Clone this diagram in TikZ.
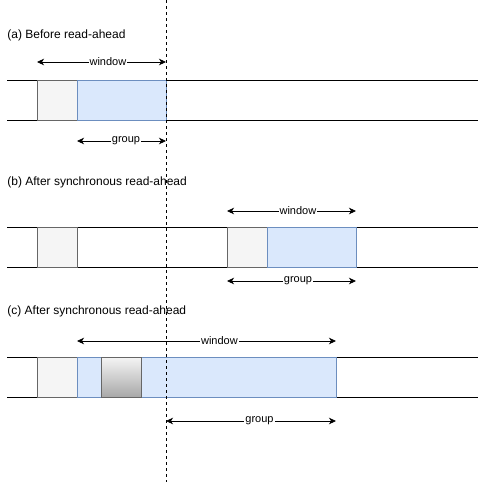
\documentclass[tikz,border=0pt]{standalone}
\usepackage{fontspec}
\setmainfont{Liberation Sans}
\usetikzlibrary{positioning,arrows.meta}
\definecolor{grayfill}{HTML}{F5F5F5}
\definecolor{graystroke}{HTML}{666666}
\definecolor{bluefill}{HTML}{DAE8FC}
\definecolor{bluestroke}{HTML}{6C8EBF}
\definecolor{shadebot}{HTML}{A8A8A8}

\begin{document}
\begin{tikzpicture}[x=1pt,y=-1pt,>={Stealth[length=7pt,width=6.5pt,inset=2pt]},line width=0.8pt,
    page/.style={inner sep=0pt,outer sep=0pt,minimum height=40pt},
    blk/.style={page,draw=graystroke,fill=grayfill,minimum width=40pt,anchor=north west},
    grp/.style={page,draw=bluestroke,fill=bluefill},
    hot/.style={page,draw=graystroke,top color=grayfill,bottom color=shadebot,minimum width=40pt},
    ttl/.style={anchor=west,inner sep=0pt,font=\fontsize{12}{14}\selectfont},
    lbl/.style={fill=white,inner sep=1pt,pos=0.55,font=\fontsize{11}{13}\selectfont}]
    \useasboundingbox (0,0) rectangle (478,482);
    % tracks
    \foreach \y in {80,120,227,267,357,397}
        \draw (7,\y) -- (478,\y);
    % (a)
    \node[ttl] (a_ttl) at (7,35) {(a) Before read-ahead};
    \node[blk] (a_blk) at (37,80) {};
    \node[grp,minimum width=89pt,right=0pt of a_blk] (a_grp) {};
    \coordinate (a_w1) at (37,62);
    \coordinate (a_w2) at (166,62);
    \coordinate (a_g1) at (77,141);
    \coordinate (a_g2) at (166,141);
    \draw[<->] (a_w1) -- node[lbl] {window} (a_w2);
    \draw[<->] (a_g1) -- node[lbl] {group} (a_g2);
    % (b)
    \node[ttl] (b_ttl) at (7,182) {(b) After synchronous read-ahead};
    \node[blk] (b_old) at (37,227) {};
    \node[blk] (b_blk) at (227,227) {};
    \node[grp,minimum width=89pt,right=0pt of b_blk] (b_grp) {};
    \coordinate (b_w1) at (227,211);
    \coordinate (b_w2) at (356,211);
    \coordinate (b_g1) at (227,281);
    \coordinate (b_g2) at (356,281);
    \draw[<->] (b_w1) -- node[lbl] {window} (b_w2);
    \draw[<->] (b_g1) -- node[lbl] {group} (b_g2);
    % (c)
    \node[ttl] (c_ttl) at (7,311) {(c) After synchronous read-ahead};
    \node[blk] (c_blk) at (37,357) {};
    \node[grp,minimum width=259pt,right=0pt of c_blk] (c_grp) {};
    \node[hot,anchor=north west] (c_hot) at (101,357) {};
    \coordinate (c_w1) at (77,341);
    \coordinate (c_w2) at (336,341);
    \coordinate (c_g1) at (166,421);
    \coordinate (c_g2) at (336,421);
    \draw[<->] (c_w1) -- node[lbl] {window} (c_w2);
    \draw[<->] (c_g1) -- node[lbl] {group} (c_g2);
    % cut
    \coordinate (cut_top) at (166,0);
    \coordinate (cut_bot) at (166,482);
    \draw[dash pattern=on 3pt off 3pt,line width=0.7pt] (cut_top) -- (cut_bot);
\end{tikzpicture}
\end{document}
